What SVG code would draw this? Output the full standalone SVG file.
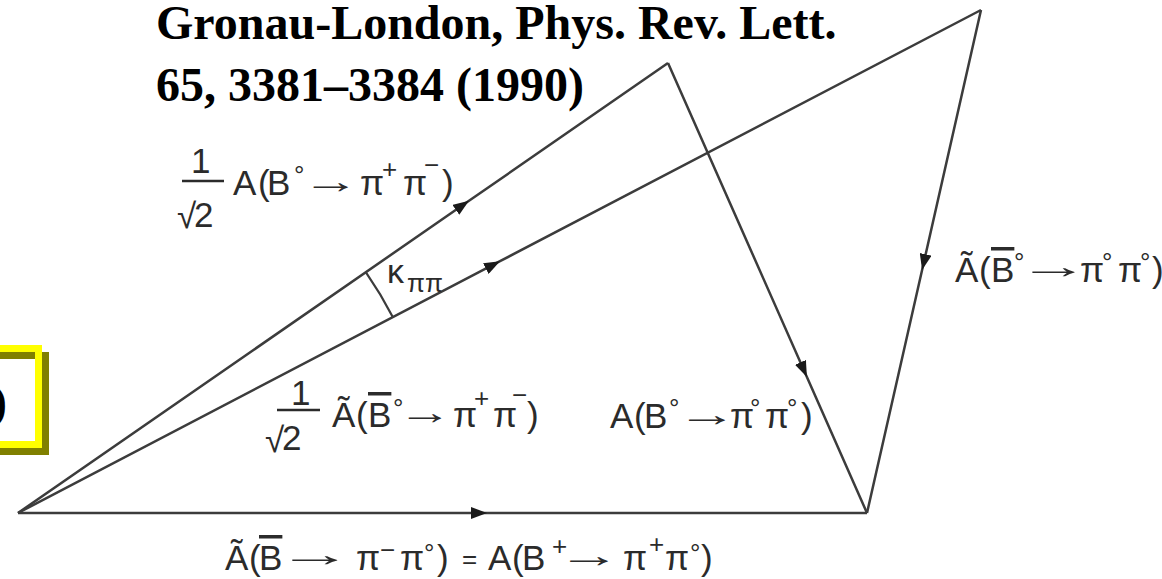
<svg xmlns="http://www.w3.org/2000/svg" width="1162" height="579" viewBox="0 0 1162 579">
<style>
.t{font-family:"Liberation Serif","Times New Roman",serif;font-weight:bold;font-size:48px;fill:#000}
.l{font-family:"Liberation Sans",Arial,sans-serif;font-size:35px;fill:#2b2b2b}
.s{font-size:26px}
.ov{text-decoration:overline}
.edge{fill:none;stroke:#3c3c3c;stroke-width:2.5;marker-mid:url(#ah)}
.bar{stroke:#2b2b2b;stroke-width:2.5}
</style>
<defs>
<marker id="ah" markerWidth="18" markerHeight="12" refX="16" refY="6" orient="auto" markerUnits="userSpaceOnUse">
<path d="M0,0 L16,6 L0,12 z" fill="#1a1a1a"/>
</marker>
</defs>
<rect width="1162" height="579" fill="#fff"/>

<g id="callout-box">
<rect x="-100" y="355.5" width="145.5" height="96" fill="none" stroke="#808000" stroke-width="7"/>
<rect x="-107" y="348.5" width="145.5" height="96" fill="none" stroke="#ffff00" stroke-width="7"/>
<text class="t" x="7" y="418" text-anchor="end">)</text>
</g>

<g id="title">
<text class="t" x="156" y="39">Gronau-London, Phys. Rev. Lett.</text>
<text class="t" x="156" y="101">65, 3381–3384 (1990)</text>
</g>

<g id="connectors">
<path id="e-bottom" class="edge" d="M18,513 L487,513 L867,513"/>
<path id="e-op" class="edge" d="M18,513 L469,200.8 L668,63"/>
<path id="e-oq" class="edge" d="M18,513 L500,261.2 L981,10"/>
<path id="e-pc" class="edge" d="M668,63 L806.9,377 L867,513"/>
<path id="e-qc" class="edge" d="M981,10 L922.1,270 L867,513"/>
<path id="angle-arc" d="M365.8,272.2 A423,423 0 0 1 392.9,317.2" fill="none" stroke="#3c3c3c" stroke-width="2.2"/>
</g>

<g id="label-kappa">
<text class="l"><tspan x="387" y="283" style="font-size:34px">κ</tspan><tspan class="s" x="407" y="292">ππ</tspan></text>
</g>

<g id="label-a-b0-pipi">
<text class="l" x="191" y="173">1</text>
<line class="bar" x1="182" y1="181" x2="224" y2="181"/>
<text class="l"><tspan x="177" y="228">√</tspan><tspan x="194" y="227">2</tspan></text>
<text class="l"><tspan x="233" y="195">A</tspan><tspan x="258" y="195">(</tspan><tspan x="267" y="195">B</tspan><tspan class="s" x="294" y="184">°</tspan><tspan x="302" y="193" textLength="57.6" lengthAdjust="spacingAndGlyphs">→</tspan><tspan x="360" y="195">π</tspan><tspan class="s" x="382" y="178">+</tspan><tspan x="403" y="195">π</tspan><tspan class="s" x="424" y="174">−</tspan><tspan x="442" y="195">)</tspan></text>
</g>

<g id="label-atilde-b0bar-pipi">
<text class="l" x="291" y="405">1</text>
<line class="bar" x1="277" y1="410" x2="320" y2="410"/>
<text class="l"><tspan x="265" y="452">√</tspan><tspan x="282" y="450">2</tspan></text>
<text class="l"><tspan x="332" y="427">Ã</tspan><tspan x="356" y="427">(</tspan><tspan class="ov" x="368" y="427">B</tspan><tspan class="s" x="393" y="417">°</tspan><tspan x="397.7" y="424" textLength="54.5" lengthAdjust="spacingAndGlyphs">→</tspan><tspan x="453" y="427">π</tspan><tspan class="s" x="474" y="407">+</tspan><tspan x="493" y="427">π</tspan><tspan class="s" x="512" y="404">−</tspan><tspan x="527" y="427">)</tspan></text>
</g>

<g id="label-a-b0-pi0pi0">
<text class="l"><tspan x="610" y="428">A</tspan><tspan x="634" y="428">(</tspan><tspan x="644" y="428">B</tspan><tspan class="s" x="669" y="417">°</tspan><tspan x="676.7" y="426" textLength="60.6" lengthAdjust="spacingAndGlyphs">→</tspan><tspan x="730" y="428">π</tspan><tspan class="s" x="750" y="417">°</tspan><tspan x="765" y="428">π</tspan><tspan class="s" x="787" y="417">°</tspan><tspan x="801" y="428">)</tspan></text>
</g>

<g id="label-atilde-b0bar-pi0pi0">
<text class="l"><tspan x="955" y="282">Ã</tspan><tspan x="979" y="282">(</tspan><tspan class="ov" x="991" y="282">B</tspan><tspan class="s" x="1014" y="271">°</tspan><tspan x="1017.9" y="278" textLength="71.2" lengthAdjust="spacingAndGlyphs">→</tspan><tspan x="1080" y="282">π</tspan><tspan class="s" x="1102" y="271">°</tspan><tspan x="1118" y="282">π</tspan><tspan class="s" x="1140" y="271">°</tspan><tspan x="1152" y="282">)</tspan></text>
</g>

<g id="label-bottom">
<text class="l"><tspan x="225" y="570">Ã</tspan><tspan x="249" y="570">(</tspan><tspan class="ov" x="259" y="570">B</tspan><tspan x="277" y="566" textLength="75.8" lengthAdjust="spacingAndGlyphs">→</tspan><tspan x="356" y="570">π</tspan><tspan class="s" x="380" y="559">−</tspan><tspan x="400" y="570">π</tspan><tspan class="s" x="424" y="562">°</tspan><tspan x="437" y="570">)</tspan><tspan class="s" x="462" y="568">=</tspan><tspan x="488" y="570">A</tspan><tspan x="512" y="570">(</tspan><tspan x="522" y="570">B</tspan><tspan class="s" x="552" y="555">+</tspan><tspan x="557.2" y="567" textLength="63.6" lengthAdjust="spacingAndGlyphs">→</tspan><tspan x="623" y="570">π</tspan><tspan class="s" x="649" y="553">+</tspan><tspan x="665" y="570">π</tspan><tspan class="s" x="690" y="562">°</tspan><tspan x="701" y="570">)</tspan></text>
</g>
</svg>
